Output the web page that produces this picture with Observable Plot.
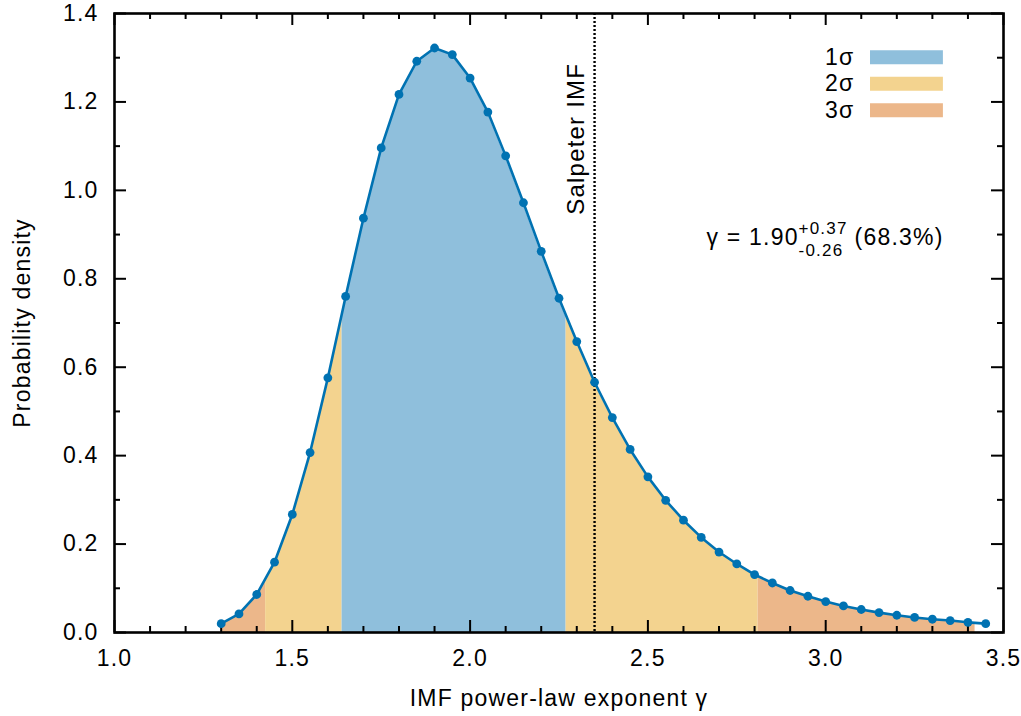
<!DOCTYPE html>
<html><head><meta charset="utf-8">
<script src="https://cdn.jsdelivr.net/npm/d3@7"></script>
<script src="https://cdn.jsdelivr.net/npm/@observablehq/plot@0.6"></script>
<style>html,body{margin:0;padding:0;background:#fff;}</style>
</head><body><div id="chart"></div>
<script>
// ---- data ----
const gamma = [1.30,1.35,1.40,1.45,1.50,1.55,1.60,1.65,1.70,1.75,1.80,1.85,1.90,1.95,2.00,2.05,2.10,2.15,2.20,2.25,2.30,2.35,2.40,2.45,2.50,2.55,2.60,2.65,2.70,2.75,2.80,2.85,2.90,2.95,3.00,3.05,3.10,3.15,3.20,3.25,3.30,3.35,3.40,3.45];
const density = [0.020,0.042,0.086,0.159,0.267,0.407,0.576,0.760,0.937,1.096,1.217,1.292,1.322,1.307,1.254,1.177,1.078,0.972,0.862,0.756,0.658,0.566,0.486,0.414,0.352,0.299,0.254,0.215,0.182,0.155,0.131,0.112,0.095,0.082,0.070,0.060,0.052,0.045,0.039,0.034,0.030,0.027,0.023,0.020];
const bandStart = [1.30, 1.425, 1.64, 2.27, 2.81];
const bandEnd   = [1.425, 1.64, 2.27, 2.81, 3.42];
const bandLevel = [2, 1, 0, 1, 2]; // index into sigmaNames
const sigmaNames = ["1σ", "2σ", "3σ"];
const sigmaColors = ["#8fbfdc", "#f3d38f", "#ecb78a"];
const xTicks = [1.0, 1.5, 2.0, 2.5, 3.0, 3.5];
const xMinor = [1.1,1.2,1.3,1.4,1.6,1.7,1.8,1.9,2.1,2.2,2.3,2.4,2.6,2.7,2.8,2.9,3.1,3.2,3.3,3.4];
const yTicks = [0, 0.2, 0.4, 0.6, 0.8, 1.0, 1.2, 1.4];
const yMinor = [0.1, 0.3, 0.5, 0.7, 0.9, 1.1, 1.3];
const salpeter = 2.35;
const salpeterLabel = "Salpeter IMF";
const fitBest = "1.90", fitPlus = "+0.37", fitMinus = "-0.26", fitConf = "(68.3%)";
const xLabel = "IMF power-law exponent γ";
const yLabel = "Probability density";

// ---- layout / style ----
const W = 1021, H = 716;
const mL = 114, mR = 18, mT = 13, mB = 84;
const innerW = W - mL - mR, innerH = H - mT - mB;
const majorLen = 12, minorLen = 6;
const xDomain = [1.0, 3.5], yDomain = [0, 1.4];
const curveColor = "#0072b2";
// annotation anchors (data coordinates)
const legendX1 = 3.126, legendX2 = 3.331, legendY0 = 1.301, legendStep = 0.06;
const annX = 2.665, annY = 0.8755;
const salpeterLabelY = 0.945;

const pts = gamma.map((g, i) => ({g, p: density[i]}));
const bandIdx = d3.range(bandStart.length);
const legIdx = d3.range(sigmaNames.length);

const chart = Plot.plot({
  width: W, height: H,
  marginLeft: mL, marginRight: mR, marginTop: mT, marginBottom: mB,
  style: {fontFamily: "'Liberation Sans', Arial, Helvetica, sans-serif", fontSize: "23px", letterSpacing: "1.2px", color: "black", background: "white"},
  x: {domain: xDomain},
  y: {domain: yDomain},
  color: {type: "identity"},
  marks: [
    // confidence bands, then mask everything above the curve
    Plot.rect(bandIdx, {x1: i => bandStart[i], x2: i => bandEnd[i], y1: yDomain[0], y2: yDomain[1], fill: i => sigmaColors[bandLevel[i]]}),
    Plot.areaY(pts, {x: "g", y1: "p", y2: yDomain[1], fill: "white", stroke: "white", strokeWidth: 1.5}),
    // inward ticks on all four sides
    Plot.tickX(xTicks, {x: d => d, insetTop: innerH - majorLen, stroke: "black", strokeWidth: 2}),
    Plot.tickX(xMinor, {x: d => d, insetTop: innerH - minorLen, stroke: "black", strokeWidth: 2}),
    Plot.tickX(xTicks, {x: d => d, insetBottom: innerH - majorLen, stroke: "black", strokeWidth: 2}),
    Plot.tickX(xMinor, {x: d => d, insetBottom: innerH - minorLen, stroke: "black", strokeWidth: 2}),
    Plot.tickY(yTicks, {y: d => d, insetRight: innerW - majorLen, stroke: "black", strokeWidth: 2}),
    Plot.tickY(yMinor, {y: d => d, insetRight: innerW - minorLen, stroke: "black", strokeWidth: 2}),
    Plot.tickY(yTicks, {y: d => d, insetLeft: innerW - majorLen, stroke: "black", strokeWidth: 2}),
    Plot.tickY(yMinor, {y: d => d, insetLeft: innerW - minorLen, stroke: "black", strokeWidth: 2}),
    // Salpeter reference
    Plot.ruleX([salpeter], {stroke: "black", strokeWidth: 2.4, strokeDasharray: "2,2"}),
    Plot.text([salpeterLabel], {x: salpeter, y: salpeterLabelY, rotate: -90, textAnchor: "start", lineAnchor: "bottom", dx: -11, fontSize: 24, fill: "black"}),
    // posterior curve
    Plot.line(pts, {x: "g", y: "p", stroke: curveColor, strokeWidth: 2.6}),
    Plot.dot(pts, {x: "g", y: "p", r: 4.4, fill: curveColor, stroke: "none"}),
    // legend
    Plot.ruleY(legIdx, {y: i => legendY0 - i * legendStep, x1: legendX1, x2: legendX2, stroke: i => sigmaColors[i], strokeWidth: 14}),
    Plot.text(legIdx, {x: legendX1, y: i => legendY0 - i * legendStep, text: i => sigmaNames[i], textAnchor: "end", lineAnchor: "middle", dx: -16, fill: "black"}),
    // fit annotation
    Plot.text([fitBest], {x: annX, y: annY, text: d => `γ = ${d}`, textAnchor: "start", lineAnchor: "bottom", fill: "black"}),
    Plot.text([fitPlus], {x: annX, y: annY, text: d => d, textAnchor: "start", lineAnchor: "bottom", dx: 92, dy: -11, fontSize: 17, fill: "black"}),
    Plot.text([fitMinus], {x: annX, y: annY, text: d => d, textAnchor: "start", lineAnchor: "bottom", dx: 92, dy: 11, fontSize: 17, fill: "black"}),
    Plot.text([fitConf], {x: annX, y: annY, text: d => d, textAnchor: "start", lineAnchor: "bottom", dx: 148, fill: "black"}),
    // frame and axes
    Plot.frame({stroke: "black", strokeWidth: 2.6}),
    Plot.axisX({ticks: xTicks, tickSize: 0, tickPadding: 17, tickFormat: d3.format(".1f"), label: null}),
    Plot.axisY({ticks: yTicks, tickSize: 0, tickPadding: 16, tickFormat: d3.format(".1f"), label: null}),
    Plot.text([xLabel], {frameAnchor: "bottom", dy: 73, lineAnchor: "bottom", textAnchor: "middle", fill: "black"}),
    Plot.text([yLabel], {frameAnchor: "left", dx: -92, rotate: -90, textAnchor: "middle", lineAnchor: "middle", fill: "black"})
  ]
});
document.getElementById("chart").appendChild(chart);
</script>
</body></html>
